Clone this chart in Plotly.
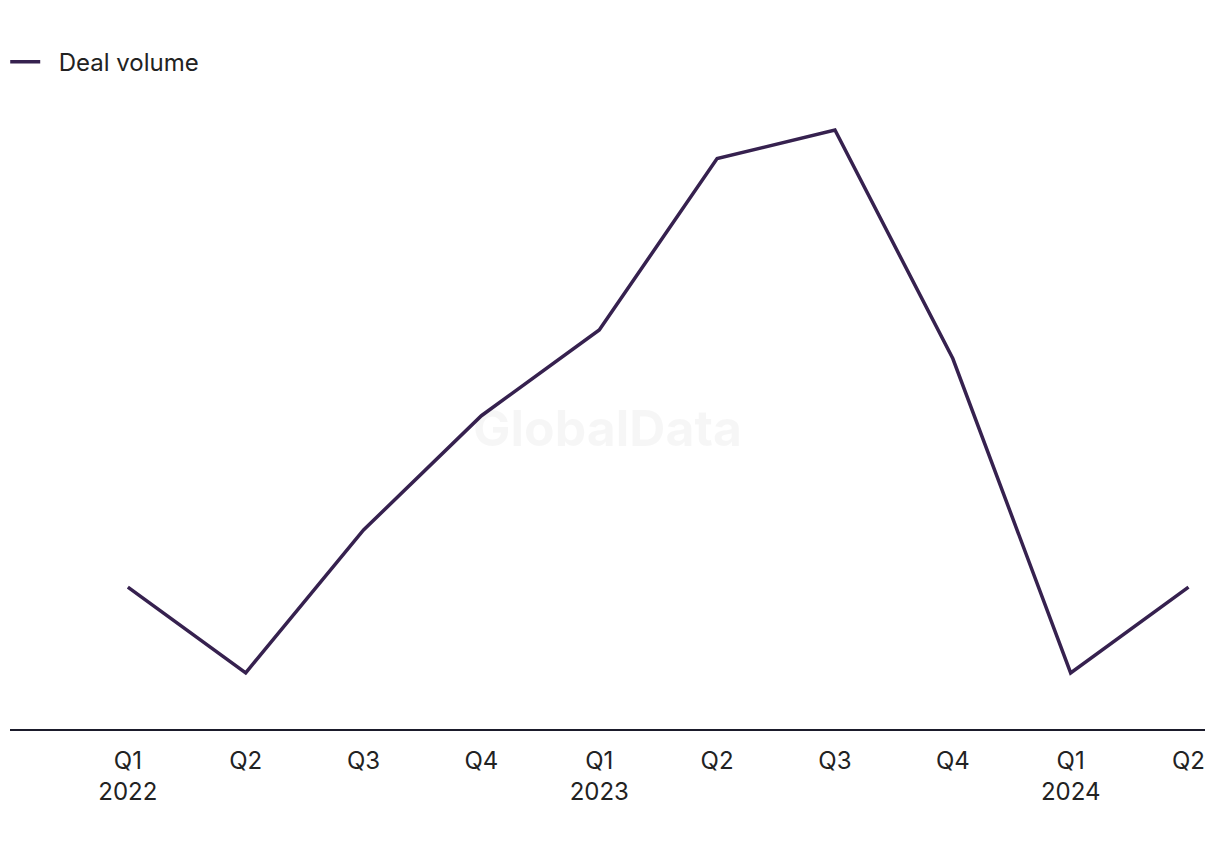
import plotly.graph_objects as go

quarters = ["Q1<br>2022", "Q2", "Q3", "Q4", "Q1<br>2023", "Q2", "Q3", "Q4", "Q1<br>2024", "Q2"]
deal_volume = [5, 2, 7, 11, 14, 20, 21, 13, 2, 5]
xpos = list(range(len(quarters)))

LINE = "#36214f"
FONT = "Inter, Roboto, 'Noto Sans', sans-serif"

fig = go.Figure()
fig.add_trace(go.Scatter(
    x=xpos, y=deal_volume, mode="lines", name="\u00a0\u00a0Deal volume",
    line=dict(color=LINE, width=3.5),
))

fig.add_annotation(
    text="<b>GlobalData</b>", x=0.5, y=0.5, xref="paper", yref="paper", yshift=-13,
    showarrow=False, font=dict(size=50, color="rgba(0,0,0,0.035)", family=FONT),
)

fig.update_layout(
    width=1220, height=850,
    margin=dict(l=10, r=15, t=100, b=120, autoexpand=False),
    paper_bgcolor="white", plot_bgcolor="white",
    font=dict(family=FONT, size=24, color="#222222"),
    showlegend=True,
    legend=dict(orientation="h", x=-0.004, y=1.06, xanchor="left", yanchor="middle",
                font=dict(size=24, color="#222222"), bgcolor="rgba(0,0,0,0)"),
    xaxis=dict(range=[-1, 9.14], tickmode="array", tickvals=xpos, ticktext=quarters,
               showgrid=False, zeroline=False, showline=False, ticks="",
               ticklabelstandoff=14,
               tickfont=dict(size=24, color="#222222")),
    yaxis=dict(range=[0, 22.05], showgrid=False, zeroline=True, zerolinecolor="#1b1b2b",
               zerolinewidth=2, showticklabels=False, ticks="", showline=False),
)

fig.write_html("out.html")
